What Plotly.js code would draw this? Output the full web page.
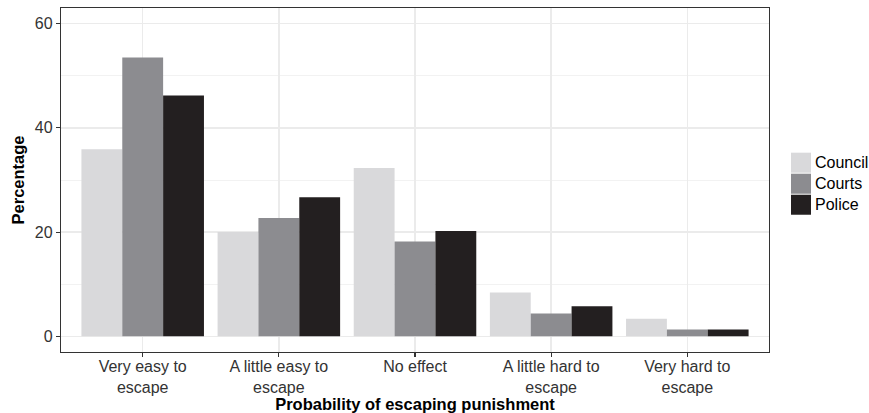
<!DOCTYPE html>
<html>
<head>
<meta charset="utf-8">
<script src="https://cdn.plot.ly/plotly-3.0.1.min.js"></script>
<style>html,body{margin:0;padding:0;background:#fff;}#chart{width:869px;height:413px;}</style>
</head>
<body>
<div id="chart"></div>
<script>
var categories = ["Very easy to<br>escape", "A little easy to<br>escape", "No effect", "A little hard to<br>escape", "Very hard to<br>escape"];
var seriesNames = ["Council", "Courts", "Police"];
var council = [35.9, 20.0, 32.3, 8.4, 3.4];
var courts = [53.5, 22.7, 18.2, 4.4, 1.3];
var police = [46.2, 26.7, 20.2, 5.8, 1.3];
var yTickValues = [0, 20, 40, 60];

var colors = ["#d9d9db", "#8c8c90", "#231f20"];
var values = [council, courts, police];
var traces = values.map(function (v, i) {
  return {
    type: "bar",
    name: seriesNames[i],
    x: categories,
    y: v,
    marker: { color: colors[i], line: { width: 0 } },
    hoverinfo: "x+y+name",
    showlegend: false
  };
});

// Legend drawn as large ggplot-style keys (paper coordinates)
var legendShapes = [];
var legendAnnotations = [];
var keyX0 = 1.0311, keyX1 = 1.0593, keyTop = 0.5794, keyH = 0.0582, keyPitch = 0.0611;
seriesNames.forEach(function (name, i) {
  var top = keyTop - i * keyPitch;
  legendShapes.push({
    type: "rect", xref: "paper", yref: "paper",
    x0: keyX0, x1: keyX1, y0: top - keyH, y1: top,
    fillcolor: colors[i], line: { width: 0 }
  });
  legendAnnotations.push({
    xref: "paper", yref: "paper", x: 1.0621, y: top - keyH / 2,
    xanchor: "left", yanchor: "middle", showarrow: false,
    text: name, font: { size: 16, color: "#000" }
  });
});

var font = "Liberation Sans, Arial, Helvetica, sans-serif";
var layout = {
  width: 869,
  height: 413,
  margin: { l: 61, r: 100, t: 8, b: 61 },
  paper_bgcolor: "#ffffff",
  plot_bgcolor: "#ffffff",
  barmode: "group",
  bargap: 0.1,
  bargroupgap: 0,
  font: { family: font, size: 16, color: "#1a1a1a" },
  xaxis: {
    type: "category",
    range: [-0.6, 4.6],
    showgrid: true,
    gridcolor: "#ebebeb",
    gridwidth: 1.5,
    ticks: "outside",
    ticklen: 4,
    tickwidth: 1.2,
    tickcolor: "#333333",
    tickfont: { family: font, size: 16, color: "#333333" },
    ticklabelstandoff: -4,
    showline: true,
    linecolor: "#333333",
    linewidth: 1.2,
    mirror: true,
    zeroline: false,
    automargin: false,
    title: { text: "<b>Probability of escaping punishment</b>", font: { family: font, size: 16.5, color: "#000" }, standoff: 4 }
  },
  yaxis: {
    range: [-3, 63],
    tickvals: yTickValues,
    ticktext: yTickValues.map(String),
    showgrid: true,
    gridcolor: "#ebebeb",
    gridwidth: 1.5,
    minor: { tickvals: [10, 30, 50], showgrid: true, gridcolor: "#f2f2f2", gridwidth: 1, ticks: "" },
    ticks: "outside",
    ticklen: 4,
    tickwidth: 1.2,
    tickcolor: "#333333",
    tickfont: { family: font, size: 16, color: "#333333" },
    showline: true,
    linecolor: "#333333",
    linewidth: 1.2,
    mirror: true,
    zeroline: false,
    automargin: false,
    title: { text: "<b>Percentage</b>", font: { family: font, size: 16.5, color: "#000" }, standoff: 6 }
  },
  shapes: legendShapes,
  annotations: legendAnnotations,
  showlegend: false
};

Plotly.newPlot("chart", traces, layout, { displayModeBar: false, staticPlot: true });
</script>
</body>
</html>
